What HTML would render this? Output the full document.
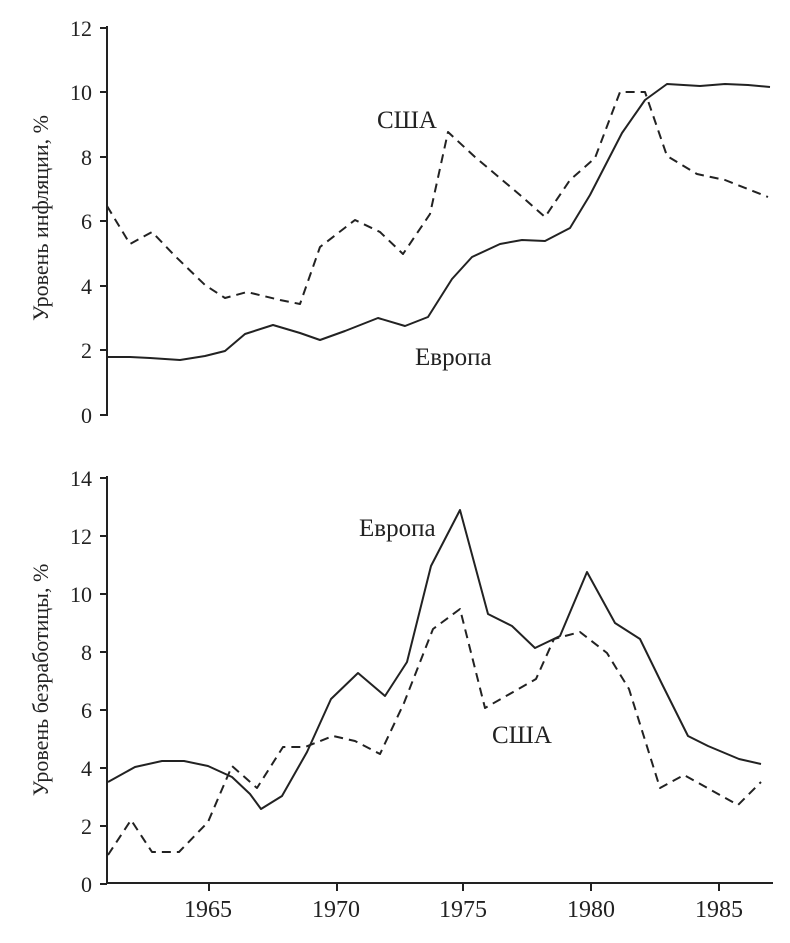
<!DOCTYPE html>
<html><head><meta charset="utf-8"><style>
body{margin:0;background:#fff}
svg text{font-family:"Liberation Serif",serif;fill:#222}
</style></head><body>
<svg width="790" height="938" viewBox="0 0 790 938" xmlns="http://www.w3.org/2000/svg">
<g stroke="#222" stroke-width="2" fill="none">
<line x1="107" y1="26" x2="107" y2="416"/>
<path d="M100 28H107M100 92H107M100 157H107M100 221H107M100 286H107M100 350H107M100 415H107"/>
<line x1="107" y1="476" x2="107" y2="884"/>
<line x1="106" y1="883" x2="773" y2="883"/>
<path d="M100 478H107M100 536H107M100 594H107M100 652H107M100 710H107M100 768H107M100 826H107M100 884H107"/>
<path d="M209 883V891M337 883V891M463 883V891M591 883V891M719 883V891"/>
</g>
<g stroke="#222" stroke-width="2" fill="none" stroke-linejoin="round">
<polyline points="107,357 130,357 150,358 180,360 205,356 225,351 245,334 273,325 300,333 320,340 345,331 378,318 405,326 428,317 452,279 472,257 500,244 522,240 545,241 570,228 590,195 622,133 645,100 667,84 700,86 725,84 748,85 770,87"/>
<polyline stroke-dasharray="9,6" points="107,206 130,244 152,232 175,256 205,285 225,298 247,292 280,300 300,304 320,247 355,220 380,232 403,254 430,214 448,132 475,157 520,195 545,217 570,180 595,158 620,92 645,92 667,156 697,174 725,180 768,197"/>
<polyline points="108,782 135,767 162,761 184,761 208,766 232,777 250,794 261,809 282,796 307,752 331,699 358,673 385,696 407,662 431,566 460,510 488,614 512,626 535,648 560,636 587,572 615,623 640,639 662,684 688,736 708,746 739,759 761,764"/>
<polyline stroke-dasharray="9,6" points="108,855 131,820 152,852 179,852 208,822 232,766 257,788 283,747 305,747 333,736 355,741 380,754 404,703 433,629 460,609 485,708 536,679 554,639 580,632 607,653 629,689 660,788 684,775 738,805 761,782"/>
</g>
<g font-size="22" text-anchor="end">
<text x="92" y="36">12</text><text x="92" y="100">10</text><text x="92" y="165">8</text><text x="92" y="229">6</text><text x="92" y="294">4</text><text x="92" y="358">2</text><text x="92" y="423">0</text>
<text x="92" y="486">14</text><text x="92" y="544">12</text><text x="92" y="602">10</text><text x="92" y="660">8</text><text x="92" y="718">6</text><text x="92" y="776">4</text><text x="92" y="834">2</text><text x="92" y="892">0</text>
</g>
<g font-size="24" text-anchor="middle">
<text x="208" y="917">1965</text><text x="336" y="917">1970</text><text x="463" y="917">1975</text><text x="591" y="917">1980</text><text x="719" y="917">1985</text>
</g>
<g font-size="22" text-anchor="middle">
<text transform="translate(48,218) rotate(-90)">Уровень инфляции, %</text>
<text transform="translate(48,680) rotate(-90)">Уровень безработицы, %</text>
</g>
<g font-size="25">
<text x="377" y="128">США</text>
<text x="415" y="365">Европа</text>
<text x="359" y="536">Европа</text>
<text x="492" y="743">США</text>
</g>
</svg>
</body></html>
